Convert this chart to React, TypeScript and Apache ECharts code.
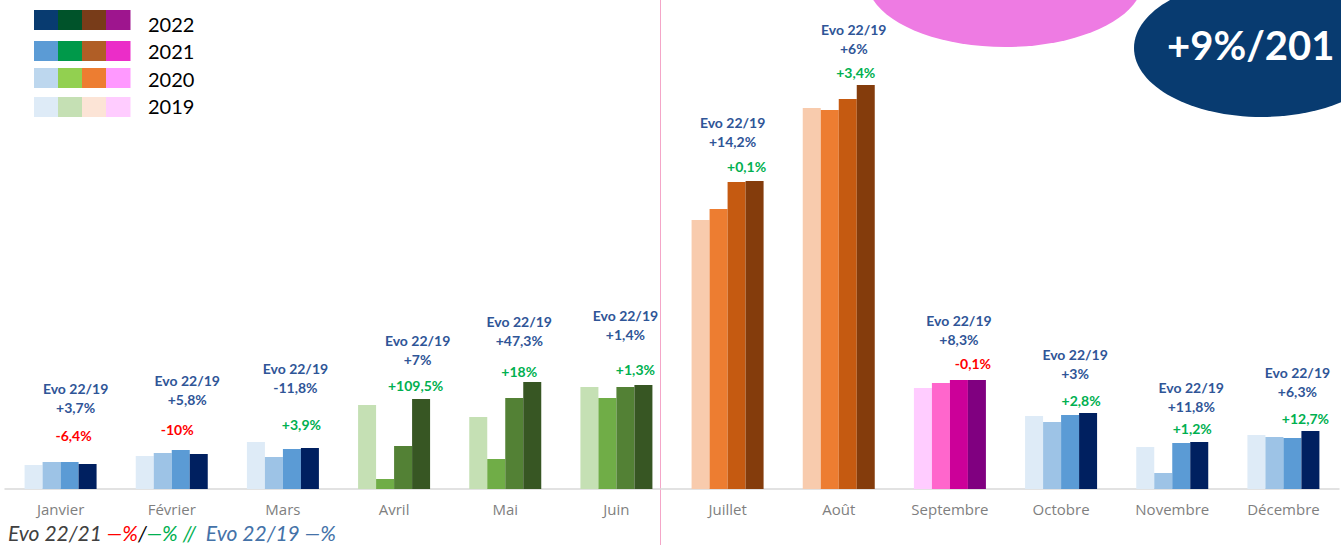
import React, { useEffect, useRef } from "react";
import * as echarts from "echarts";

const months = ["Janvier", "Février", "Mars", "Avril", "Mai", "Juin", "Juillet", "Août", "Septembre", "Octobre", "Novembre", "Décembre"];
const years = ["2019", "2020", "2021", "2022"];
const v2019 = [24, 33, 47, 84, 72, 102, 269, 381, 101, 73, 42, 54];
const v2020 = [27, 36, 32, 10, 30, 91, 280, 379, 106, 67, 16, 52];
const v2021 = [27, 39, 40, 43, 91, 102, 307, 390, 109, 74, 46, 51];
const v2022 = [25, 35, 41, 90, 107, 104, 308, 404, 109, 76, 47, 58];
const evo2219 = ["+3,7%", "+5,8%", "-11,8%", "+7%", "+47,3%", "+1,4%", "+14,2%", "+6%", "+8,3%", "+3%", "+11,8%", "+6,3%"];
const evo2221 = ["-6,4%", "-10%", "+3,9%", "+109,5%", "+18%", "+1,3%", "+0,1%", "+3,4%", "-0,1%", "+2,8%", "+1,2%", "+12,7%"];

// styling
const palettes: Record<string, string[]> = {
  blue: ["#DEEBF7", "#9DC3E6", "#5B9BD5", "#002060"],
  green: ["#C5E0B4", "#70AD47", "#538135", "#375623"],
  orange: ["#F8CBAD", "#ED7D31", "#C55A11", "#843C0C"],
  pink: ["#FFCCFF", "#FF66CC", "#CC0099", "#800080"],
};
const monthFamily = ["blue", "blue", "blue", "green", "green", "green", "orange", "orange", "pink", "blue", "blue", "blue"];
const legendRows = [
  { year: "2022", colors: ["#083B70", "#00532A", "#783C19", "#9E158E"], y: 10, ty: 24 },
  { year: "2021", colors: ["#5B9BD5", "#00994A", "#B05E26", "#EB2DC8"], y: 41, ty: 51 },
  { year: "2020", colors: ["#BDD7EE", "#92D050", "#ED7D31", "#FF99FF"], y: 68, ty: 78.5 },
  { year: "2019", colors: ["#DEEBF7", "#C5E0B4", "#FCE4D6", "#FFCCFF"], y: 97, ty: 106 },
];
// label nudges (layout only)
const nudge2221 = [[-14, -21], [-21.5, -17], [-8.5, -16], [-5.5, -6], [-13, -3], [-8, -8], [-8, -7], [-10, -5], [-4, -9], [-7, -5], [-7, -6], [-5, -5]];
const nudge2219 = [[6, -45.5], [6.5, -41.5], [3.5, -52], [14.5, -77], [5, -48], [0, -43], [-4, -31.5], [6, -41.5], [0, -31.5], [5, -32], [10, -27], [5, -37.5]];

const LABEL_FONT = "Lato, 'Open Sans', sans-serif";

export default function App() {
  const ref = useRef<HTMLDivElement>(null);
  useEffect(() => {
    document.body.style.margin = "0";
    if (!ref.current) return;
    const chart = echarts.init(ref.current, undefined, { renderer: "svg" });
    const all = [v2019, v2020, v2021, v2022];
    const series = all.map((vals, yi) => ({
      name: years[yi],
      type: "bar",
      barWidth: 18,
      barGap: "0%",
      z: 2,
      data: vals.map((v, mi) => {
        const item: any = { value: v, itemStyle: { color: palettes[monthFamily[mi]][yi] } };
        if (yi === 2) {
          item.label = { offset: nudge2219[mi] };
        }
        if (yi === 3) {
          item.label = { offset: nudge2221[mi] };
        }
        return item;
      }),
      label:
        yi === 2
          ? {
              show: true,
              position: "top",
              distance: 0,
              formatter: (p: any) => `{b|Evo 22/19}\n{b|${evo2219[p.dataIndex]}}`,
              rich: {
                b: { color: "#2F5597", fontSize: 14, fontWeight: "bold", fontFamily: LABEL_FONT, lineHeight: 19, align: "center" },
              },
            }
          : yi === 3
          ? {
              show: true,
              position: "top",
              distance: 0,
              formatter: (p: any) => {
                const s = evo2221[p.dataIndex];
                return s.startsWith("-") ? `{r|${s}}` : `{g|${s}}`;
              },
              rich: {
                g: { color: "#00B050", fontSize: 14, fontWeight: "bold", fontFamily: LABEL_FONT, lineHeight: 16 },
                r: { color: "#FF0000", fontSize: 14, fontWeight: "bold", fontFamily: LABEL_FONT, lineHeight: 16 },
              },
            }
          : { show: false },
    }));

    const graphic: any[] = [];
    legendRows.forEach((row) => {
      row.colors.forEach((c, i) => {
        graphic.push({ type: "rect", shape: { x: 34 + i * 24, y: row.y, width: 24.5, height: 20 }, style: { fill: c } });
      });
      graphic.push({
        type: "text",
        x: 148,
        y: row.ty,
        style: { text: row.year, fill: "#000000", fontSize: 20, fontFamily: "Lato, sans-serif", verticalAlign: "middle" },
      });
    });
    graphic.push({ type: "ellipse", shape: { cx: 1005, cy: -20, rx: 138, ry: 67 }, style: { fill: "#EE7BE3" } });
    graphic.push({ type: "ellipse", shape: { cx: 1262, cy: 48, rx: 128, ry: 69 }, style: { fill: "#083B70" } });
    graphic.push({
      type: "text",
      x: 1167,
      y: 45,
      style: { text: "+9%/201", fill: "#FFFFFF", fontSize: 40, fontWeight: "bold", fontFamily: "Lato, sans-serif", verticalAlign: "middle" },
    });
    graphic.push({ type: "line", shape: { x1: 660.5, y1: 0, x2: 660.5, y2: 545 }, style: { stroke: "#F4A6C8", lineWidth: 1 } });
    const it = { fontSize: 21, fontStyle: "italic", fontFamily: "Lato, sans-serif" };
    graphic.push({
      type: "text",
      x: 8,
      y: 532,
      style: {
        text: "{a|Evo 22/21 }{r|—%}{k|/}{g|—% //}{b|  Evo 22/19 —%}",
        verticalAlign: "middle",
        rich: {
          a: { fill: "#404040", ...it },
          r: { fill: "#FF0000", ...it },
          k: { fill: "#000000", ...it },
          g: { fill: "#00B050", ...it },
          b: { fill: "#4472A8", ...it },
        },
      },
    });

    chart.setOption({
      animation: false,
      backgroundColor: "#FFFFFF",
      grid: { left: 5, right: 2, top: 9, bottom: 56, containLabel: false },
      xAxis: {
        type: "category",
        data: months,
        axisLine: { show: true, lineStyle: { color: "#D9D9D9", width: 1.5 } },
        axisTick: { show: false },
        axisLabel: { color: "#7F7F7F", fontSize: 15, fontFamily: "'Open Sans', sans-serif", margin: 12, interval: 0 },
      },
      yAxis: { type: "value", min: 0, max: 480, show: false, splitLine: { show: false } },
      series,
      graphic,
    });
    return () => chart.dispose();
  }, []);
  return <div ref={ref} style={{ width: 1341, height: 545 }} />;
}
